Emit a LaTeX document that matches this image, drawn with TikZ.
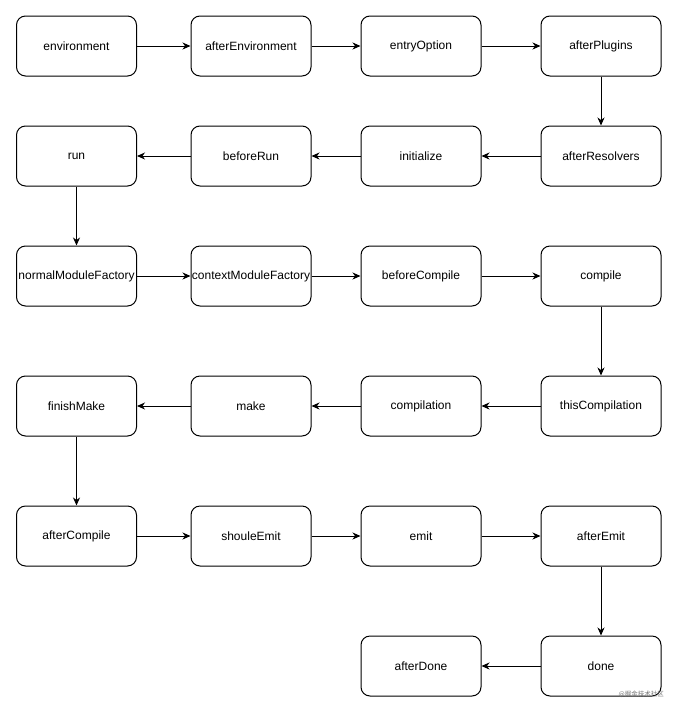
\documentclass[tikz,border=0pt]{standalone}
\usepackage{fontspec}
\setmainfont{Liberation Sans}
\newfontfamily\cjk{Noto Sans CJK SC}
\usetikzlibrary{arrows.meta}
\begin{document}
\begin{tikzpicture}[x=1pt,y=-1pt,
  box/.style={draw=black, line width=1pt, rounded corners=9pt, minimum width=120pt, minimum height=60pt, inner sep=0pt, font=\fontsize{12}{14}\selectfont},
  arr/.style={draw=black, line width=1pt, -{Stealth[length=8pt,width=7pt,inset=2.5pt]}}]
\useasboundingbox (0,0) rectangle (678,713);
\def\ca{76.5}\def\cb{251}\def\cc{421}\def\cd{601}
\node[box] (env) at (\ca,46) {environment};
\node[box] (aenv) at (\cb,46) {afterEnvironment};
\node[box] (eo) at (\cc,46) {entryOption};
\node[box] (ap) at (\cd,46) {afterPlugins};
\node[box] (run) at (\ca,156) {run};
\node[box] (br) at (\cb,156) {beforeRun};
\node[box] (init) at (\cc,156) {initialize};
\node[box] (ar) at (\cd,156) {afterResolvers};
\node[box] (nmf) at (\ca,276) {normalModuleFactory};
\node[box] (cmf) at (\cb,276) {contextModuleFactory};
\node[box] (bc) at (\cc,276) {beforeCompile};
\node[box] (comp) at (\cd,276) {compile};
\node[box] (fm) at (\ca,406) {finishMake};
\node[box] (make) at (\cb,406) {make};
\node[box] (cpl) at (\cc,406) {compilation};
\node[box] (tc) at (\cd,406) {thisCompilation};
\node[box] (ac) at (\ca,536) {afterCompile};
\node[box] (se) at (\cb,536) {shouleEmit};
\node[box] (emit) at (\cc,536) {emit};
\node[box] (ae) at (\cd,536) {afterEmit};
\node[box] (ad) at (\cc,666) {afterDone};
\node[box] (done) at (\cd,666) {done};
\draw[arr] (env) -- (aenv);
\draw[arr] (aenv) -- (eo);
\draw[arr] (eo) -- (ap);
\draw[arr] (ap) -- (ar);
\draw[arr] (ar) -- (init);
\draw[arr] (init) -- (br);
\draw[arr] (br) -- (run);
\draw[arr] (run) -- (nmf);
\draw[arr] (nmf) -- (cmf);
\draw[arr] (cmf) -- (bc);
\draw[arr] (bc) -- (comp);
\draw[arr] (comp) -- (tc);
\draw[arr] (tc) -- (cpl);
\draw[arr] (cpl) -- (make);
\draw[arr] (make) -- (fm);
\draw[arr] (fm) -- (ac);
\draw[arr] (ac) -- (se);
\draw[arr] (se) -- (emit);
\draw[arr] (emit) -- (ae);
\draw[arr] (ae) -- (done);
\draw[arr] (done) -- (ad);
\node[anchor=east, inner sep=0pt, text=black!55, font=\cjk\fontsize{6.5}{7}\selectfont] (wm) at (664,694) {@掘金技术社区};
\end{tikzpicture}
\end{document}
